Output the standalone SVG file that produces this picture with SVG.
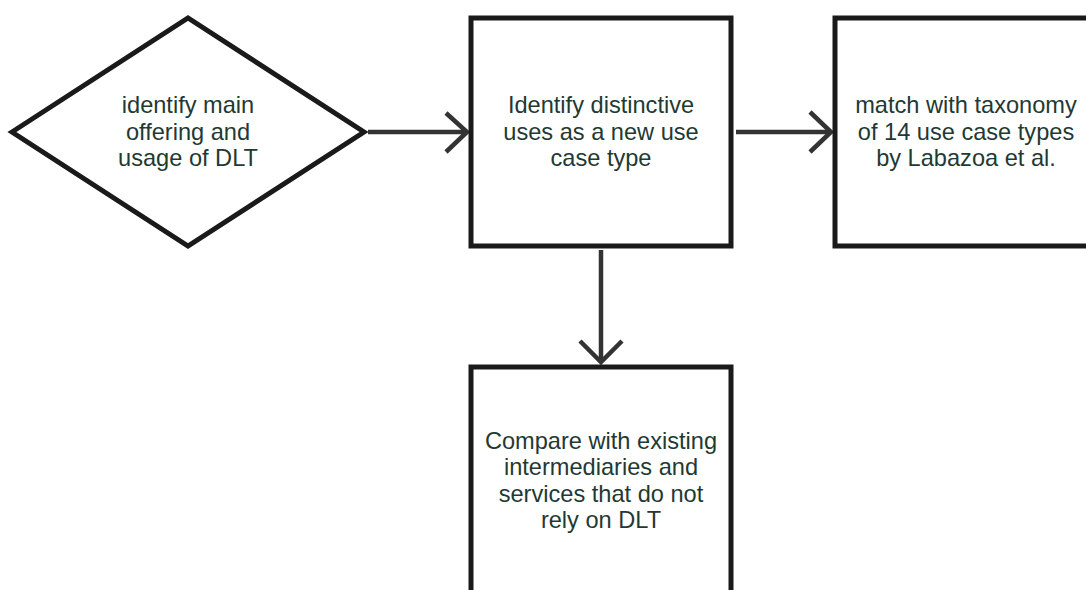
<svg xmlns="http://www.w3.org/2000/svg" width="1086" height="590" viewBox="0 0 1086 590">
<style>
.node{fill:#ffffff;stroke:#1a1a1a;stroke-width:5;stroke-linejoin:miter}
.lbl{font-family:"Liberation Sans",Arial,sans-serif;font-size:23.6px;fill:#1f3a33;text-anchor:middle}
.edge{fill:none;stroke:#333333;stroke-width:4.5;stroke-linecap:butt;stroke-linejoin:miter}
</style>
<rect width="1086" height="590" fill="#ffffff"/>
<g id="connectors">
<path class="edge" d="M368 132 H466"/>
<path class="edge" d="M446 113 L467 132 L446 152"/>
<path class="edge" d="M736 132 H831"/>
<path class="edge" d="M810 112 L831 132 L810 152"/>
<path class="edge" d="M601 250 V360"/>
<path class="edge" d="M580 341 L601 362 L622 341"/>
</g>
<g id="node-identify-main">
<polygon class="node" points="12,132 188,18 364,132 188,246"/>
<text class="lbl" x="188" y="113">identify main</text>
<text class="lbl" x="188" y="139.5">offering and</text>
<text class="lbl" x="188" y="166">usage of DLT</text>
</g>
<g id="node-distinctive">
<rect class="node" x="471" y="18" width="260" height="228"/>
<text class="lbl" x="601" y="113">Identify distinctive</text>
<text class="lbl" x="601" y="139.5">uses as a new use</text>
<text class="lbl" x="601" y="166">case type</text>
</g>
<g id="node-taxonomy">
<rect class="node" x="835" y="18" width="262" height="228"/>
<text class="lbl" x="966" y="113">match with taxonomy</text>
<text class="lbl" x="966" y="139.5">of 14 use case types</text>
<text class="lbl" x="966" y="166">by Labazoa et al.</text>
</g>
<g id="node-compare">
<rect class="node" x="471" y="367" width="260" height="260"/>
<text class="lbl" x="601" y="449">Compare with existing</text>
<text class="lbl" x="601" y="475">intermediaries and</text>
<text class="lbl" x="601" y="501.5">services that do not</text>
<text class="lbl" x="601" y="527.5">rely on DLT</text>
</g>
</svg>
